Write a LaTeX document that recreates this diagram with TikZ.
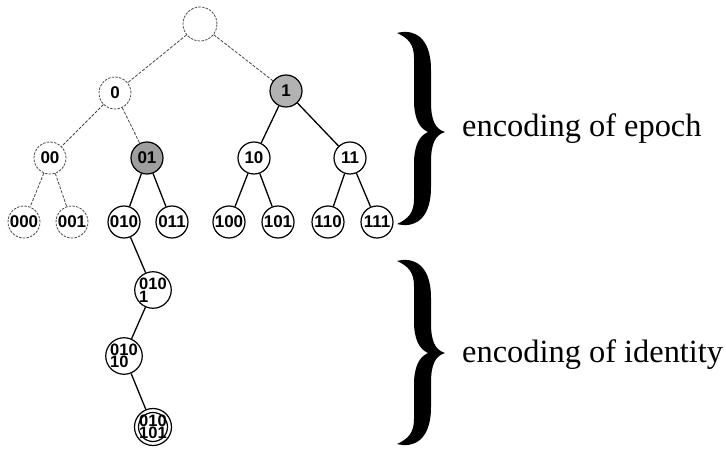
\documentclass[tikz,border=0pt]{standalone}
\usepackage{fontspec}
\setmainfont{Liberation Serif}
\newfontfamily\labelfont{Liberation Sans}

% filled curly brace: top y, tip y, bottom y (x=1pt, y grows downward)
\newcommand\epbrace[3]{%
  \fill (397,{#1+3}) .. controls (412,{#1-1}) and (431,{#1+5}) .. (431,{#1+40})
    -- (431,{#2-30})
    .. controls (431,{#2-12}) and (435,{#2-3}) .. (445,#2)
    .. controls (435,{#2+3}) and (431,{#2+12}) .. (431,{#2+30})
    -- (431,{#3-40})
    .. controls (431,{#3-5}) and (412,{#3+1}) .. (397,{#3-3})
    .. controls (408,{#3-8}) and (414,{#3-14}) .. (414,{#3-28})
    -- (414,{#2+32})
    .. controls (414,{#2+14}) and (419,{#2+4}) .. (428,#2)
    .. controls (419,{#2-4}) and (414,{#2-14}) .. (414,{#2-32})
    -- (414,{#1+28})
    .. controls (414,{#1+14}) and (408,{#1+8}) .. (397,{#1+3}) -- cycle;}

\begin{document}
\begin{tikzpicture}[x=1pt,y=-1pt,
  vertex/.style={circle, draw=black, line width=1.2pt, minimum size=32pt,
    inner sep=0pt, font=\labelfont\bfseries\fontsize{17}{12}\selectfont},
  faint/.style={draw=gray!60!black, line width=0.8pt, dash pattern=on 2.5pt off 1.2pt},
  shaded/.style={fill=gray!60},
  darkshaded/.style={fill=gray!76},
  stack/.style={align=left, font=\labelfont\bfseries\fontsize{16.5}{12.5}\selectfont},
  solidedge/.style={line width=1.3pt, black},
  faintedge/.style={line width=0.8pt, gray!55!black, dash pattern=on 3pt off 1.5pt},
  caption/.style={anchor=base west, inner sep=0pt, font=\fontsize{32.4}{36}\selectfont}
]
\useasboundingbox (0,0) rectangle (726,449);

% epoch part of the tree
\node[vertex, faint, minimum size=34pt] (r) at (200,24) {};
\node[vertex, faint] (n0) at (115,93) {0};
\node[vertex, shaded] (n1) at (286,91) {1};
\node[vertex, faint] (n00) at (50,158) {00};
\node[vertex, darkshaded] (n01) at (147,158) {01};
\node[vertex] (n10) at (254,158) {10};
\node[vertex] (n11) at (350,158) {11};
\node[vertex, faint] (n000) at (24,222) {000};
\node[vertex, faint] (n001) at (72,222) {001};
\node[vertex] (n010) at (124,222) {010};
\node[vertex] (n011) at (172,222) {011};
\node[vertex] (n100) at (229,222) {100};
\node[vertex] (n101) at (278,222) {101};
\node[vertex] (n110) at (328,222) {110};
\node[vertex] (n111) at (377,222) {111};

% identity part of the path
\node[vertex, stack] (n0101) at (153,290) {010\\1};
\node[vertex, stack] (n01010) at (124,356) {010\\10};
\node[vertex, stack, minimum size=37pt] (n010101) at (153,427) {010\\101};
\draw[line width=1.2pt] (n010101.center) circle[radius=14.5pt];

% connectors
\draw[faintedge] (r) -- (n0);
\draw[faintedge] (r) -- (n1);
\draw[faintedge] (n0) -- (n00);
\draw[faintedge] (n0) -- (n01);
\draw[faintedge] (n00) -- (n000);
\draw[faintedge] (n00) -- (n001);
\draw[solidedge] (n1) -- (n10);
\draw[solidedge] (n1) -- (n11);
\draw[solidedge] (n01) -- (n010);
\draw[solidedge] (n01) -- (n011);
\draw[solidedge] (n10) -- (n100);
\draw[solidedge] (n10) -- (n101);
\draw[solidedge] (n11) -- (n110);
\draw[solidedge] (n11) -- (n111);
\draw[solidedge] (n010) -- (n0101);
\draw[solidedge] (n0101) -- (n01010);
\draw[solidedge] (n01010) -- (n010101);

% braces and captions
\epbrace{30}{132}{227}
\epbrace{258}{353}{447}
\node[caption] (epoch) at (462,137) {encoding of epoch};
\node[caption] (identity) at (462,362) {encoding of identity};
\end{tikzpicture}
\end{document}
